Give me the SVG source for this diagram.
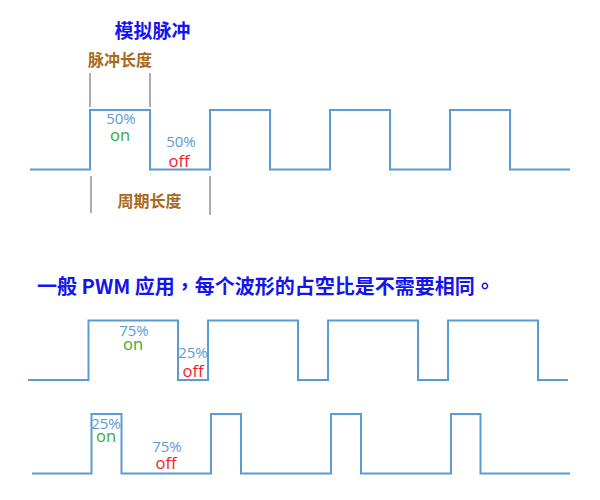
<svg xmlns="http://www.w3.org/2000/svg" width="600" height="500" viewBox="0 0 600 500">
  <style>
    .wave { fill: none; stroke: #5b9bd5; stroke-width: 2; }
    .mark { stroke: #999999; stroke-width: 1.6; }
    .pct { font-family: "Open Sans", "Noto Sans", sans-serif; font-size: 15px; fill: #5b9bd5; text-anchor: middle; }
    .on { font-family: "Open Sans", "Noto Sans", sans-serif; font-size: 16.5px; fill: #3aaa35; text-anchor: middle; }
    .off { font-family: "Open Sans", "Noto Sans", sans-serif; font-size: 16.5px; fill: #f0202a; text-anchor: middle; }
    .title { font-family: "Noto Sans CJK TC", "Noto Sans CJK SC", sans-serif; font-weight: bold; fill: #1414f0; }
    .brown { font-family: "Noto Sans CJK SC", sans-serif; font-weight: bold; font-size: 16px; fill: #a8691e; text-anchor: middle; }
  </style>
  <rect width="600" height="500" fill="#ffffff"/>

  <g id="title1"><text class="title" x="152.5" y="38" font-size="19" text-anchor="middle">模拟脉冲</text></g>
  <g id="pulse-length">
    <text class="brown" x="120" y="66">脉冲长度</text>
    <line class="mark" x1="90" y1="73" x2="90" y2="107"/>
    <line class="mark" x1="150" y1="73" x2="150" y2="107"/>
  </g>
  <g id="period-length">
    <text class="brown" x="149.5" y="206.5">周期长度</text>
    <line class="mark" x1="91" y1="176" x2="91" y2="213"/>
    <line class="mark" x1="210" y1="176" x2="210" y2="215"/>
  </g>

  <g id="connectors">
    <path id="wave1" class="wave" d="M30,169.5 H90 V110 H150 V169.5 H210 V110 H270 V169.5 H330 V110 H390 V169.5 H450 V110 H510 V169.5 H570"/>
    <path id="wave2" class="wave" d="M28,380 H88.5 V320.5 H178 V380 H208 V320.5 H298 V380 H328 V320.5 H418 V380 H448 V320.5 H538 V380 H568"/>
    <path id="wave3" class="wave" d="M32,473.5 H91.5 V414 H121.5 V473.5 H211 V414 H241 V473.5 H331 V414 H361 V473.5 H451 V414 H480.5 V473.5 H570"/>
  </g>

  <g id="labels1">
    <text class="pct" x="121" y="124.3">50%</text>
    <text class="on" x="120" y="140.5">on</text>
    <text class="pct" x="181" y="146.7">50%</text>
    <text class="off" x="179" y="166.7">off</text>
  </g>

  <g id="title2"><text class="title" x="37" y="294" font-size="20">一般 PWM 应用，每个波形的占空比是不需要相同。</text></g>

  <g id="labels2">
    <text class="pct" x="134" y="336">75%</text>
    <text class="on" x="133" y="349.8">on</text>
    <text class="pct" x="193" y="358">25%</text>
    <text class="off" x="193" y="376.7">off</text>
  </g>
  <g id="labels3">
    <text class="pct" x="106" y="429">25%</text>
    <text class="on" x="106" y="442.2">on</text>
    <text class="pct" x="167" y="451.7">75%</text>
    <text class="off" x="166" y="469">off</text>
  </g>
</svg>
